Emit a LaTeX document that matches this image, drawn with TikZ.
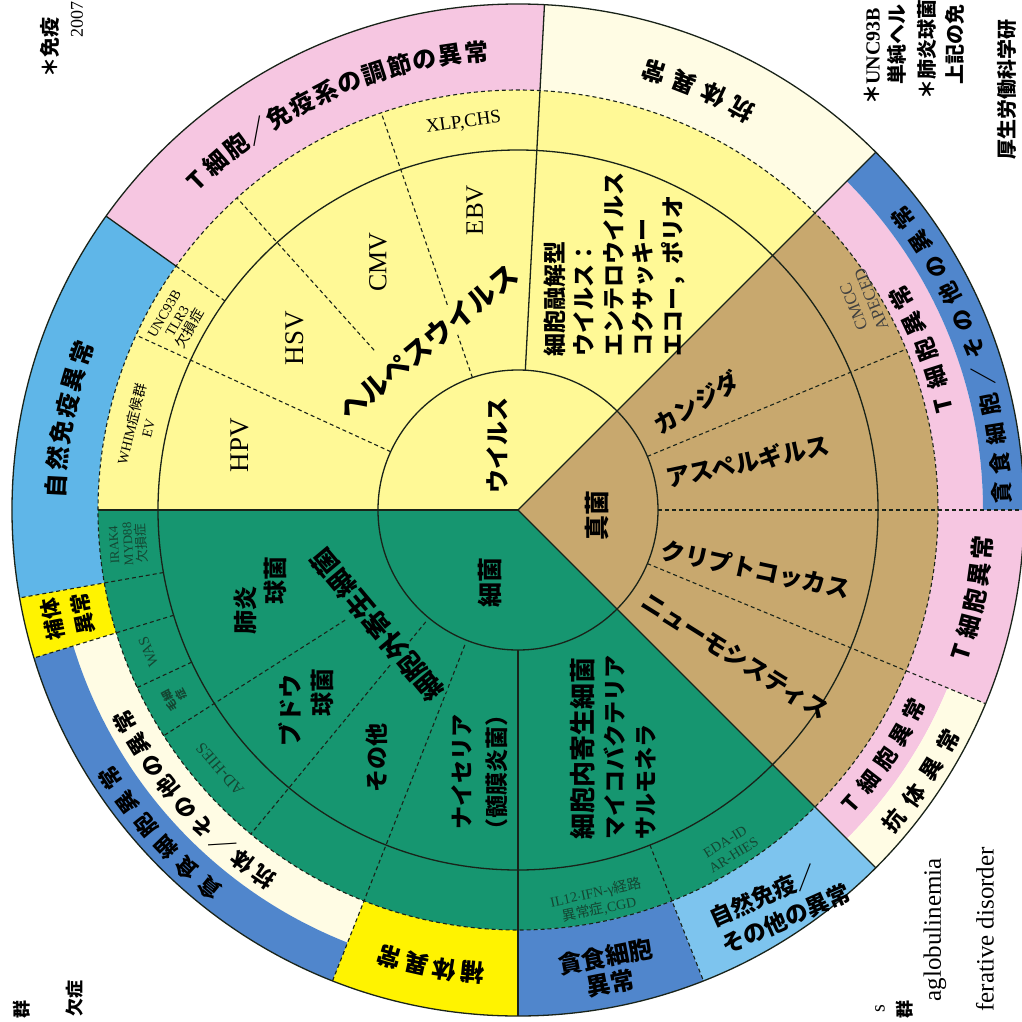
\documentclass[tikz,border=0pt]{standalone}
\usepackage{fontspec}
\setmainfont{Liberation Serif}
\newfontfamily\jp{Noto Sans CJK JP}
\newcommand\jf[2]{\jp\bfseries\fontsize{#1}{#2}\selectfont}
\newcommand\rmf[2]{\rmfamily\fontsize{#1}{#2}\selectfont}
\definecolor{vY}{RGB}{255,249,150}
\definecolor{bG}{RGB}{22,150,112}
\definecolor{fT}{RGB}{200,168,110}
\definecolor{pk}{RGB}{246,198,225}
\definecolor{cr}{RGB}{255,252,228}
\definecolor{lb}{RGB}{95,182,232}
\definecolor{lbb}{RGB}{125,196,238}
\definecolor{mb}{RGB}{80,134,204}
\definecolor{by}{RGB}{255,243,0}
\definecolor{ln}{RGB}{25,35,25}
\definecolor{dg}{RGB}{20,70,50}
\newcommand\ring[5]{\fill[#1] (#4:#2) arc[start angle=#4,end angle=#5,radius=#2] -- (#5:#3) arc[start angle=#5,end angle=#4,radius=#3] -- cycle;}
\newcommand\arctext[7]{%
  \foreach \ch [count=\i from 0] in {#7}{%
    \pgfmathsetmacro\ang{#3+\i*(#4)}%
    \pgfmathsetmacro\rot{\ang+#5}%
    \node[inner sep=0pt, rotate=\rot, font=\jf{#6}{#6}] (#1\i) at (\ang:#2) {\ch};
  }}
\begin{document}
\begin{tikzpicture}[x=1pt,y=1pt,
  sol/.style={draw=ln,line width=1.3pt},
  dsh/.style={draw=ln,line width=1.1pt,dash pattern=on 4pt off 3pt},
  lab/.style={inner sep=0pt,text=black},
  sub/.style={inner sep=0pt,text=dg,align=center}]
\clip (-518,-511) rectangle (504,510);
\fill[white] (-518,-511) rectangle (504,510);
% outer ring
\ring{cr}{420}{506}{45}{87}
\ring{pk}{420}{506}{87}{144.5}
\ring{lb}{420}{506}{144.5}{190}
\ring{by}{420}{506}{190}{197}
\ring{cr}{420}{465}{197}{248.5}
\ring{mb}{465}{506}{197}{248.5}
\ring{by}{420}{506}{248.5}{270}
\ring{mb}{420}{506}{270}{291.5}
\ring{lbb}{420}{506}{291.5}{315}
\ring{pk}{420}{465}{315}{337.5}
\ring{cr}{465}{506}{315}{337.5}
\ring{pk}{420}{506}{337.5}{360}
\ring{pk}{420}{465}{0}{45}
\ring{mb}{465}{506}{0}{45}
% inner sectors
\fill[vY] (0,0) -- (45:420) arc[start angle=45,end angle=180,radius=420] -- cycle;
\fill[bG] (0,0) -- (180:420) arc[start angle=180,end angle=315,radius=420] -- cycle;
\fill[fT] (0,0) -- (-45:420) arc[start angle=-45,end angle=45,radius=420] -- cycle;
% circles
\draw[sol] (0,0) circle[radius=140];
\draw[sol] (0,0) circle[radius=360];
\draw[dsh] (0,0) circle[radius=420];
\draw[sol] (0,0) circle[radius=506];
% solid radials
\draw[sol] (0,0) -- (45:506);
\draw[sol] (0,0) -- (180:420);
\draw[sol] (0,0) -- (315:506);
\draw[sol] (87:140) -- (87:506);
\draw[sol] (144.5:420) -- (144.5:506);
\draw[sol] (270:140) -- (270:506);
% dashed radials
\draw[dsh] (109:140) -- (109:420);
\draw[dsh] (132:215) -- (132:420);
\draw[dsh] (155.4:140) -- (155.4:420);
\draw[dsh] (144.5:360) -- (144.5:420);
\draw[dsh] (22.5:140) -- (22.5:420);
\draw[dsh] (0:140) -- (0:506);
\draw[dsh] (-22.5:140) -- (-22.5:506);
\draw[dsh] (190:360) -- (190:506);
\draw[dsh] (197:360) -- (197:506);
\draw[dsh] (205:360) -- (205:420);
\draw[dsh] (212.5:205) -- (212.5:420);
\draw[dsh] (230.5:145) -- (230.5:420);
\draw[dsh] (248.5:145) -- (248.5:506);
\draw[dsh] (291.5:360) -- (291.5:506);
% centre labels
\node[lab,rotate=90,font=\jf{24}{28}] (virus) at (-21,65) {ウイルス};
\node[lab,rotate=90,font=\jf{25}{28}] (fungi) at (79,-5) {真菌};
\node[lab,rotate=90,font=\jf{25}{28}] (bact) at (-28,-72) {細菌};
% virus ring
\node[lab,fill=vY,inner sep=1pt,rotate=40,font=\jf{28}{30}] (herpes) at (-90,168) {ヘルペスウイルス};
\node[lab,rotate=90,font=\rmf{27}{30}] (hpv) at (-278,65) {HPV};
\node[lab,rotate=90,font=\rmf{27}{30}] (hsv) at (-223,172) {HSV};
\node[lab,rotate=90,font=\rmf{26}{30}] (cmv) at (-140,248) {CMV};
\node[lab,rotate=90,font=\rmf{25}{30}] (ebv) at (-43,300) {EBV};
\node[lab,rotate=90,anchor=west,align=left,font=\jf{23}{29.5}] (lytic) at (96,153) {細胞融解型\\ウイルス：\\エンテロウイルス\\コクサッキー\\エコー，ポリオ};
% fungus ring
\node[lab,rotate=31,font=\jf{24}{28}] (candida) at (31:208) {カンジダ};
\node[lab,rotate=12,font=\jf{24}{28}] (asper) at (12:235) {アスペルギルス};
\node[lab,rotate=-12,font=\jf{24}{28}] (crypto) at (-14:245) {クリプトコッカス};
\node[lab,rotate=-32,font=\jf{24}{28}] (pneumo) at (-34:262) {ニューモシスティス};
% bacteria ring
\node[lab,fill=bG,inner sep=1pt,rotate=130,font=\jf{27}{30}] (extra) at (-141,-115) {細胞外寄生細菌};
\node[lab,rotate=90,font=\jf{24}{28}] (pn1) at (-273,-100) {肺炎};
\node[lab,rotate=90,font=\jf{24}{28}] (pn2) at (-243,-70) {球菌};
\node[lab,rotate=90,font=\jf{24}{28}] (st1) at (-228,-200) {ブドウ};
\node[lab,rotate=90,font=\jf{24}{28}] (st2) at (-196,-182) {球菌};
\node[lab,rotate=90,font=\jf{23}{28}] (other) at (-141,-248) {その他};
\node[lab,rotate=90,align=center,font=\jf{23}{35}] (neis) at (-38,-262) {ナイセリア\\（髄膜炎菌）};
\node[lab,rotate=90,anchor=west,align=left,font=\jf{23}{31}] (intra) at (95,-330) {{\fontsize{26}{31}\selectfont 細胞内寄生細菌}\\マイコバクテリア\\サルモネラ};
% sub ring labels
\node[lab,rotate=8,font=\rmf{19}{20}] (xlp) at (98:391) {XLP,CHS};
\node[sub,text=black,rotate=60,font=\rmf{14}{15}] (unc) at (151:389) {UNC93B\\TLR3\\{\jp 欠損症}};
\node[sub,text=black,rotate=76,font=\rmf{14}{17}] (whim) at (167.5:388) {WHIM{\jp 症候群}\\EV};
\node[sub,rotate=93,font=\rmf{13}{14}] (irak) at (185:391) {IRAK4\\MYD88\\{\jp 欠損症}};
\node[sub,rotate=111,font=\rmf{15}{16}] (was) at (201:396) {WAS};
\node[sub,rotate=118,font=\jf{11}{13}] (ataxia) at (208.7:391) {毛細\\症};
\node[sub,rotate=131,font=\rmf{16}{17}] (adhies) at (221:395) {AD-HIES};
\node[sub,rotate=12,font=\rmf{14}{17}] (il12) at (281.5:399) {IL12$\cdot$IFN-γ{\jp 経路}\\{\jp 異常症},CGD};
\node[sub,rotate=32,font=\rmf{14}{16}] (eda) at (302:399) {EDA-ID\\AR-HIES};
\node[sub,text=black!75,rotate=112,font=\rmf{17}{19}] (cmcc) at (31:402) {CMCC\\APECED};
% outer curved labels
\arctext{tcr}{460}{134.3}{-3.26}{-90}{24}{T,細,胞,／,免,疫,系,の,調,節,の,異,常}
\arctext{nat}{463}{177}{-3.35}{-90}{24}{自,然,免,疫,異,常}
\arctext{abA}{459}{60.8}{3.97}{90}{24}{抗,体,異,常}
\arctext{phA}{484}{2}{3.52}{90}{22}{貪,食,細,胞,／,そ,の,他,の,異,常}
\arctext{tA}{438}{13.8}{3.8}{90}{23}{T,細,胞,異,常}
\arctext{tB}{466}{-17.8}{3.3}{90}{24}{T,細,胞,異,常}
\arctext{tC}{444}{-41.4}{3.65}{90}{22}{T,細,胞,異,常}
\arctext{abB}{488}{-39.6}{3.8}{90}{22}{抗,体,異,常}
\arctext{cmA}{465}{264.4}{-3.5}{-90}{24}{補,体,異,常}
\arctext{abC}{446}{235.3}{-3.375}{-90}{22}{抗,体,／,そ,の,他,の,異,常}
\arctext{phB}{488}{230.8}{-3.5}{-90}{22}{貪,食,細,胞,異,常}
% straight outer labels
\node[lab,rotate=101,align=center,font=\jf{21}{31}] (cmB) at (193.3:463) {補体\\異常};
\node[lab,rotate=11,align=center,font=\jf{24}{27}] (phC) at (90,-460) {貪食細胞\\異常};
\node[lab,rotate=24,align=left,font=\jf{23}{30}] (natB) at (262,-395) {自然免疫／\\その他の異常};
% page fragments
\node[lab,rotate=90,anchor=west,font=\jf{20}{22}] (m1) at (-468,432) {＊免疫};
\node[lab,rotate=90,anchor=west,font=\rmf{18}{20}] (m2) at (-441,472) {2007};
\node[lab,rotate=90,anchor=west,font=\jf{20}{22}] (m3) at (354,405) {＊{\rmfamily UNC93B}};
\node[lab,rotate=90,anchor=west,font=\jf{20}{22}] (m4) at (379,425) {単純ヘル};
\node[lab,rotate=90,anchor=west,font=\jf{20}{22}] (m5) at (409,410) {＊肺炎球菌};
\node[lab,rotate=90,anchor=west,font=\jf{20}{22}] (m6) at (437,425) {上記の免};
\node[lab,rotate=90,anchor=west,font=\jf{20}{22}] (m7) at (489,350) {厚生労働科学研};
\node[lab,rotate=90,anchor=east,font=\rmf{25}{27}] (m8) at (417,-348) {aglobulinemia};
\node[lab,rotate=90,anchor=east,font=\rmf{25}{27}] (m9) at (467,-337) {ferative disorder};
\node[lab,rotate=90,anchor=east,font=\jf{18}{20}] (m10) at (387,-490) {群};
\node[lab,rotate=90,anchor=east,font=\rmf{20}{22}] (m11) at (362,-495) {s};
\node[lab,rotate=90,anchor=east,font=\jf{18}{20}] (m12) at (-496,-490) {群};
\node[lab,rotate=90,anchor=east,font=\jf{18}{20}] (m13) at (-443,-470) {欠症};
\end{tikzpicture}
\end{document}
